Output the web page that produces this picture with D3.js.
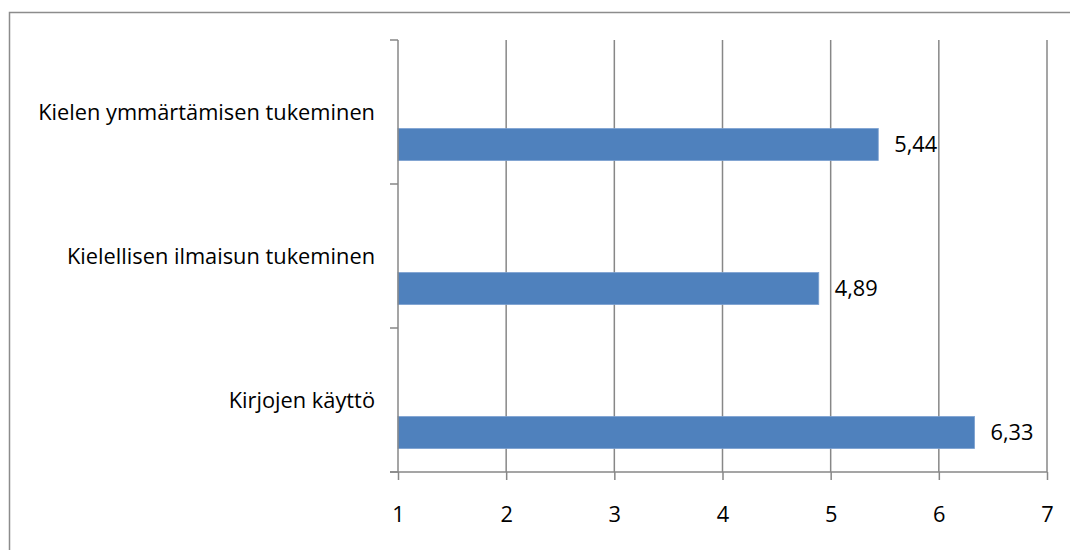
<!DOCTYPE html>
<html>
<head>
<meta charset="utf-8">
<script src="https://cdn.jsdelivr.net/npm/d3@7"></script>
<style>
  body { margin: 0; background: #fff; }
  text { font-family: "Open Sans", Lato, sans-serif; fill: #000; }
</style>
</head>
<body>
<svg id="chart" width="1070" height="550"></svg>
<script>
// data, top to bottom as drawn
const categories = ["Kielen ymmärtämisen tukeminen", "Kielellisen ilmaisun tukeminen", "Kirjojen käyttö"]
const values = [5.44, 4.89, 6.33]
const tickValues = [1, 2, 3, 4, 5, 6, 7]

const layout = { left: 398, right: 1047, top: 40, bottom: 472 }
const gridColor = '#878787'
const barColor = '#4f81bd'
const fontSize = 21.8

const svg = d3.select('#chart')

// outer chart frame (runs off the right and bottom edges)
svg.append('rect')
    .attr('x', 9.5).attr('y', 12.5)
    .attr('width', 1100).attr('height', 600)
    .attr('fill', 'none')
    .attr('stroke', '#8c8c8c')
    .attr('stroke-width', 1.5)

const x = d3.scaleLinear()
    .domain([1, 7])
    .range([layout.left, layout.right])

const y = d3.scaleBand()
    .domain(categories)
    .range([layout.top, layout.bottom])

// vertical gridlines
svg.append('g')
    .selectAll('line')
    .data(tickValues.slice(1))
    .join('line')
    .attr('x1', d => x(d)).attr('x2', d => x(d))
    .attr('y1', layout.top).attr('y2', layout.bottom)
    .attr('stroke', gridColor)
    .attr('stroke-width', 1.5)

// bars sit in the lower part of each band (second series slot)
svg.append('g')
    .selectAll('rect')
    .data(values)
    .join('rect')
    .attr('x', x(1))
    .attr('y', (d, i) => y(categories[i]) + y.bandwidth() * 0.615)
    .attr('width', d => x(d) - x(1))
    .attr('height', y.bandwidth() * 0.222)
    .attr('fill', barColor)
    .attr('stroke', '#7aa0d0')
    .attr('stroke-width', 0.8)

// value labels
svg.append('g')
    .selectAll('text')
    .data(values)
    .join('text')
    .attr('x', d => x(d) + 16)
    .attr('y', (d, i) => y(categories[i]) + y.bandwidth() * 0.726)
    .attr('dy', '0.35em')
    .attr('font-size', fontSize)
    .text(d => d.toFixed(2).replace('.', ','))

// category axis line
svg.append('line')
    .attr('x1', layout.left).attr('x2', layout.left)
    .attr('y1', layout.top).attr('y2', layout.bottom)
    .attr('stroke', gridColor)
    .attr('stroke-width', 1.5)

// category boundary ticks
const bounds = categories.map(c => y(c)).concat([layout.bottom])
svg.append('g')
    .selectAll('line')
    .data(bounds)
    .join('line')
    .attr('x1', layout.left - 8).attr('x2', layout.left)
    .attr('y1', d => d).attr('y2', d => d)
    .attr('stroke', gridColor)
    .attr('stroke-width', 1.5)

// category labels
svg.append('g')
    .selectAll('text')
    .data(categories)
    .join('text')
    .attr('x', layout.left - 23)
    .attr('y', d => y(d) + y.bandwidth() / 2)
    .attr('dy', '0.35em')
    .attr('text-anchor', 'end')
    .attr('font-size', fontSize)
    .text(d => d)

// value axis
const xAxis = d3.axisBottom(x)
    .tickValues(tickValues)
    .tickSize(8)
    .tickPadding(27)
    .tickFormat(d3.format('d'))
svg.append('g')
    .attr('transform', `translate(0,${layout.bottom})`)
    .call(xAxis)
    .call(g => g.select('.domain').remove())
    .call(g => g.selectAll('.tick line').attr('stroke', gridColor).attr('stroke-width', 1.5))
    .call(g => g.selectAll('.tick text').attr('font-size', fontSize).attr('font-family', '"Open Sans", Lato, sans-serif'))

svg.append('line')
    .attr('x1', layout.left - 8).attr('x2', layout.right)
    .attr('y1', layout.bottom).attr('y2', layout.bottom)
    .attr('stroke', gridColor)
    .attr('stroke-width', 1.5)
</script>
</body>
</html>
